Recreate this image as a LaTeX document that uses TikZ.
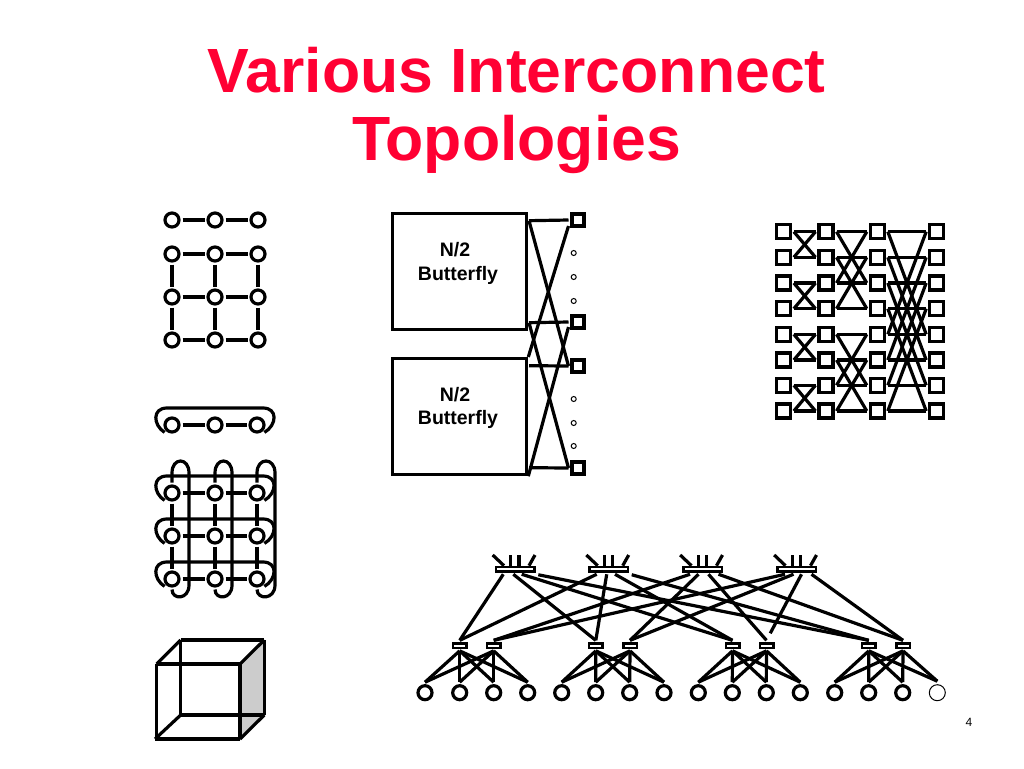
\documentclass[tikz,border=0pt]{standalone}
\usepackage{fontspec}
\setmainfont{Liberation Sans}
\usetikzlibrary{calc}
\definecolor{titlered}{HTML}{FF0033}
\tikzset{
 roundnd/.style={draw,circle,inner sep=0,minimum size=14,outer sep=3.5},
 squarend/.style={draw,rectangle,inner sep=0,minimum size=14,outer sep=3.5},
 portnd/.style={draw,rectangle,inner sep=0,minimum size=12,outer sep=3.5},
 dotnd/.style={draw,circle,inner sep=0,minimum size=5,line width=1},
 blocknd/.style={draw,rectangle,inner sep=0,minimum width=134.4,minimum height=116},
 topsw/.style={draw,rectangle,inner sep=0,line width=2.5,minimum width=38.5,minimum height=4.5,outer sep=3},
 midsw/.style={draw,rectangle,inner sep=0,line width=2.5,minimum width=13.5,minimum height=4.5,outer sep=3},
 blocktxt/.style={font=\fontsize{19.5}{19.5}\selectfont\bfseries,anchor=base,inner sep=0},
 titletxt/.style={font=\fontsize{62.5}{62.5}\selectfont\bfseries,text=titlered,anchor=base,inner sep=0},
}
\def\stubs(#1){
\draw ([shift={(-11,-3.3)}]#1.center)--([shift={(-22.3,-14)}]#1.center);
\draw ([shift={(-4.3,-3)}]#1.center)--([shift={(-4.3,-14)}]#1.center);
\draw ([shift={(4,-3)}]#1.center)--([shift={(4,-14)}]#1.center);
\draw ([shift={(14,-3.3)}]#1.center)--([shift={(20,-14)}]#1.center);
}
\begin{document}
\begin{tikzpicture}[x=1pt,y=-1pt,line width=3.2]
\useasboundingbox (0,0) rectangle (1024,768);

\node[titletxt] (title1) at (516.5,92.5) {Various Interconnect};
\node[titletxt] (title2) at (516.5,160) {Topologies};
\node[font=\fontsize{12}{12}\selectfont,inner sep=0] (pageno) at (969,722) {4};

% linear array and mesh
\node[roundnd] (line1) at (172,220) {};
\node[roundnd] (line2) at (215,220) {};
\node[roundnd] (line3) at (258,220) {};
\draw (line1)--(line2);
\draw (line2)--(line3);

\node[roundnd] (g11) at (172,254) {};
\node[roundnd] (g12) at (215,254) {};
\node[roundnd] (g13) at (258,254) {};
\node[roundnd] (g21) at (172,297) {};
\node[roundnd] (g22) at (215,297) {};
\node[roundnd] (g23) at (258,297) {};
\node[roundnd] (g31) at (172,340) {};
\node[roundnd] (g32) at (215,340) {};
\node[roundnd] (g33) at (258,340) {};
\draw (g11)--(g12); \draw (g12)--(g13);
\draw (g21)--(g22); \draw (g22)--(g23);
\draw (g31)--(g32); \draw (g32)--(g33);
\draw (g11)--(g21); \draw (g21)--(g31);
\draw (g12)--(g22); \draw (g22)--(g32);
\draw (g13)--(g23); \draw (g23)--(g33);

% ring
\node[roundnd] (ring1) at (172,425) {};
\node[roundnd] (ring2) at (215,425) {};
\node[roundnd] (ring3) at (257,425) {};
\draw (ring1)--(ring2);
\draw (ring2)--(ring3);
\draw (ring1.south west) .. controls (153,425) and (152,408) .. (167,408) -- (263,408) .. controls (278,408) and (277,425) .. (ring3.south east);

% torus
\node[roundnd] (t11) at (172,493) {};
\node[roundnd] (t12) at (215,493) {};
\node[roundnd] (t13) at (257,493) {};
\node[roundnd] (t21) at (172,536) {};
\node[roundnd] (t22) at (215,536) {};
\node[roundnd] (t23) at (257,536) {};
\node[roundnd] (t31) at (172,579) {};
\node[roundnd] (t32) at (215,579) {};
\node[roundnd] (t33) at (257,579) {};
\draw (t11)--(t12); \draw (t12)--(t13);
\draw (t21)--(t22); \draw (t22)--(t23);
\draw (t31)--(t32); \draw (t32)--(t33);
\draw (t11)--(t21); \draw (t21)--(t31);
\draw (t12)--(t22); \draw (t22)--(t32);
\draw (t13)--(t23); \draw (t23)--(t33);
\draw (t11.south west) .. controls (153,493) and (152,476) .. (167,476) -- (263,476) .. controls (278,476) and (277,493) .. (t13.south east);
\draw (t21.south west) .. controls (153,536) and (152,519) .. (167,519) -- (263,519) .. controls (278,519) and (277,536) .. (t23.south east);
\draw (t31.south west) .. controls (153,579) and (152,562) .. (167,562) -- (263,562) .. controls (278,562) and (277,579) .. (t33.south east);
\draw (t11.north) -- (172,473) .. controls (172,457) and (189,457) .. (189,473) -- (189,585) .. controls (189,600) and (172,600) .. (t31.south);
\draw (t12.north) -- (215,473) .. controls (215,457) and (232,457) .. (232,473) -- (232,585) .. controls (232,600) and (215,600) .. (t32.south);
\draw (t13.north) -- (257,473) .. controls (257,457) and (275,457) .. (275,473) -- (275,585) .. controls (275,600) and (257,600) .. (t33.south);

% cube
\fill[black!20] (240,664) -- (264.3,640) -- (264.3,715) -- (240,739) -- cycle;
\coordinate (c1) at (156.7,664);
\coordinate (c2) at (240,664);
\coordinate (c3) at (240,739);
\coordinate (c4) at (155,739);
\coordinate (c5) at (180.7,640);
\coordinate (c6) at (264.3,640);
\coordinate (c7) at (264.3,715);
\coordinate (c8) at (180.7,715);
\draw (c1)--(c2); \draw (c2)--(c3); \draw (c3)--(c4); \draw (c1)--(156.7,739);
\draw (c5)--(c6); \draw (c6)--(c7); \draw (c7)--(c8); \draw (c8)--(c5);
\draw (c1)--(c5); \draw (c2)--(c6); \draw (c3)--(c7); \draw (c4)--(c8);

% recursive butterfly
\node[blocknd] (box1) at (459.5,271.3) {};
\node[blocknd] (box2) at (459.5,416.6) {};
\node[blocktxt] (lab1) at (455,256) {N/2};
\node[blocktxt] (lab2) at (458,280) {Butterfly};
\node[blocktxt] (lab3) at (455,401) {N/2};
\node[blocktxt] (lab4) at (458,424) {Butterfly};
\node[portnd] (s1) at (578,220) {};
\node[portnd] (s2) at (578,322) {};
\node[portnd] (s3) at (578,366) {};
\node[portnd] (s4) at (578,468) {};
\node[dotnd] (d1) at (573.7,253) {};
\node[dotnd] (d2) at (573.7,277) {};
\node[dotnd] (d3) at (573.7,301) {};
\node[dotnd] (d4) at (573.7,399) {};
\node[dotnd] (d5) at (573.7,423) {};
\node[dotnd] (d6) at (573.7,446) {};
\coordinate (e1) at (529,220.7);
\coordinate (e2) at (529,322.7);
\coordinate (e3) at (529,365.7);
\coordinate (e4) at (529,467.7);
\draw (e1)--(s1.west);
\draw (e1)--(s3.west);
\draw (e2)--(s2.west);
\draw (e2)--(s4.west);
\draw (e3)--(s3.west);
\draw (e4)--(s4.west);
\draw (box2.north east)--([yshift=-6pt]s1.west);
\draw (box2.south east)--([yshift=-5pt]s2.west);

% butterfly network
\node[squarend] (a1) at (783.3,231.7) {};
\node[squarend] (a2) at (783.3,257.3) {};
\node[squarend] (a3) at (783.3,283) {};
\node[squarend] (a4) at (783.3,308.7) {};
\node[squarend] (a5) at (783.3,334.3) {};
\node[squarend] (a6) at (783.3,360) {};
\node[squarend] (a7) at (783.3,385.3) {};
\node[squarend] (a8) at (783.3,411) {};
\node[squarend] (b1) at (826,231.7) {};
\node[squarend] (b2) at (826,257.3) {};
\node[squarend] (b3) at (826,283) {};
\node[squarend] (b4) at (826,308.7) {};
\node[squarend] (b5) at (826,334.3) {};
\node[squarend] (b6) at (826,360) {};
\node[squarend] (b7) at (826,385.3) {};
\node[squarend] (b8) at (826,411) {};
\node[squarend] (p1) at (877.3,231.7) {};
\node[squarend] (p2) at (877.3,257.3) {};
\node[squarend] (p3) at (877.3,283) {};
\node[squarend] (p4) at (877.3,308.7) {};
\node[squarend] (p5) at (877.3,334.3) {};
\node[squarend] (p6) at (877.3,360) {};
\node[squarend] (p7) at (877.3,385.3) {};
\node[squarend] (p8) at (877.3,411) {};
\node[squarend] (q1) at (936.7,231.7) {};
\node[squarend] (q2) at (936.7,257.3) {};
\node[squarend] (q3) at (936.7,283) {};
\node[squarend] (q4) at (936.7,308.7) {};
\node[squarend] (q5) at (936.7,334.3) {};
\node[squarend] (q6) at (936.7,360) {};
\node[squarend] (q7) at (936.7,385.3) {};
\node[squarend] (q8) at (936.7,411) {};

\draw (a1.east)--(b1.west); \draw (a1.east)--(b2.west);
\draw (a2.east)--(b2.west); \draw (a2.east)--(b1.west);
\draw (a3.east)--(b3.west); \draw (a3.east)--(b4.west);
\draw (a4.east)--(b4.west); \draw (a4.east)--(b3.west);
\draw (a5.east)--(b5.west); \draw (a5.east)--(b6.west);
\draw (a6.east)--(b6.west); \draw (a6.east)--(b5.west);
\draw (a7.east)--(b7.west); \draw (a7.east)--(b8.west);
\draw (a8.east)--(b8.west); \draw (a8.east)--(b7.west);

\draw (b1.east)--(p1.west); \draw (b1.east)--(p3.west);
\draw (b2.east)--(p2.west); \draw (b2.east)--(p4.west);
\draw (b3.east)--(p3.west); \draw (b3.east)--(p1.west);
\draw (b4.east)--(p4.west); \draw (b4.east)--(p2.west);
\draw (b5.east)--(p5.west); \draw (b5.east)--(p7.west);
\draw (b6.east)--(p6.west); \draw (b6.east)--(p8.west);
\draw (b7.east)--(p7.west); \draw (b7.east)--(p5.west);
\draw (b8.east)--(p8.west); \draw (b8.east)--(p6.west);

\draw (p1.east)--(q1.west); \draw (p1.east)--(q5.west);
\draw (p2.east)--(q2.west); \draw (p2.east)--(q6.west);
\draw (p3.east)--(q3.west); \draw (p3.east)--(q7.west);
\draw (p4.east)--(q4.west); \draw (p4.east)--(q8.west);
\draw (p5.east)--(q5.west); \draw (p5.east)--(q1.west);
\draw (p6.east)--(q6.west); \draw (p6.east)--(q2.west);
\draw (p7.east)--(q7.west); \draw (p7.east)--(q3.west);
\draw (p8.east)--(q8.west); \draw (p8.east)--(q4.west);

% fat tree
\node[topsw] (top1) at (515,569) {};
\node[topsw] (top2) at (608.7,569) {};
\node[topsw] (top3) at (702.5,569) {};
\node[topsw] (top4) at (796.5,569) {};
\stubs(top1)
\stubs(top2)
\stubs(top3)
\stubs(top4)
\node[midsw] (mid1) at (459.7,645.6) {};
\node[midsw] (mid2) at (493.7,645.6) {};
\node[midsw] (mid3) at (595.8,645.6) {};
\node[midsw] (mid4) at (630,645.6) {};
\node[midsw] (mid5) at (732.5,645.6) {};
\node[midsw] (mid6) at (766.5,645.6) {};
\node[midsw] (mid7) at (868.8,645.6) {};
\node[midsw] (mid8) at (903,645.6) {};
\node[roundnd] (n1) at (425,692.7) {};
\node[roundnd] (n2) at (459.7,692.7) {};
\node[roundnd] (n3) at (493.7,692.7) {};
\node[roundnd] (n4) at (527.7,692.7) {};
\node[roundnd] (n5) at (561.7,692.7) {};
\node[roundnd] (n6) at (595.7,692.7) {};
\node[roundnd] (n7) at (629.7,692.7) {};
\node[roundnd] (n8) at (664,692.7) {};
\node[roundnd] (n9) at (698.3,692.7) {};
\node[roundnd] (n10) at (732.3,692.7) {};
\node[roundnd] (n11) at (766.3,692.7) {};
\node[roundnd] (n12) at (800.3,692.7) {};
\node[roundnd] (n13) at (834.7,692.7) {};
\node[roundnd] (n14) at (868.7,692.7) {};
\node[roundnd] (n15) at (902.7,692.7) {};
\node[roundnd,line width=1,minimum size=16] (n16) at (937.3,692.7) {};

\draw ([xshift=-11.7pt]top1.south)--(mid1.north);
\draw ([xshift=-1.7pt]top1.south)--(mid3.north);
\draw ([xshift=6.7pt]top1.south)--(mid5.north);
\draw ([xshift=23.3pt,yshift=-0.5pt]top1.south)--(mid7.north);
\draw ([xshift=-12pt]top2.south)--(mid1.north);
\draw ([xshift=-2pt]top2.south)--(mid3.north);
\draw ([xshift=6.3pt]top2.south)--(mid5.north);
\draw ([xshift=23pt,yshift=-0.5pt]top2.south)--(mid7.north);
\draw ([xshift=-12.5pt]top3.south)--(mid2.north);
\draw ([xshift=-4pt]top3.south)--(mid4.north);
\draw ([xshift=6pt]top3.south)--(mid6.north);
\draw ([xshift=16pt]top3.south)--(mid8.north);
\draw ([xshift=-11.5pt]top4.south)--(mid2.north);
\draw ([xshift=-3pt]top4.south)--(mid4.north);
\draw[shorten >=8pt] ([xshift=5pt]top4.south)--(mid6.north);
\draw ([xshift=15pt]top4.south)--(mid8.north);

\draw (mid1.south)--(n1.north); \draw (mid1.south)--(n2.north);
\draw (mid1.south)--(n3.north); \draw (mid1.south)--(n4.north);
\draw (mid2.south)--(n1.north); \draw (mid2.south)--(n2.north);
\draw (mid2.south)--(n3.north); \draw (mid2.south)--(n4.north);
\draw (mid3.south)--(n5.north); \draw (mid3.south)--(n6.north);
\draw (mid3.south)--(n7.north); \draw (mid3.south)--(n8.north);
\draw (mid4.south)--(n5.north); \draw (mid4.south)--(n6.north);
\draw (mid4.south)--(n7.north); \draw (mid4.south)--(n8.north);
\draw (mid5.south)--(n9.north); \draw (mid5.south)--(n10.north);
\draw (mid5.south)--(n11.north); \draw (mid5.south)--(n12.north);
\draw (mid6.south)--(n9.north); \draw (mid6.south)--(n10.north);
\draw (mid6.south)--(n11.north); \draw (mid6.south)--(n12.north);
\draw (mid7.south)--(n13.north); \draw (mid7.south)--(n14.north);
\draw (mid7.south)--(n15.north); \draw (mid7.south)--(n16.north);
\draw (mid8.south)--(n13.north); \draw (mid8.south)--(n14.north);
\draw (mid8.south)--(n15.north); \draw (mid8.south)--(n16.north);
\end{tikzpicture}
\end{document}
